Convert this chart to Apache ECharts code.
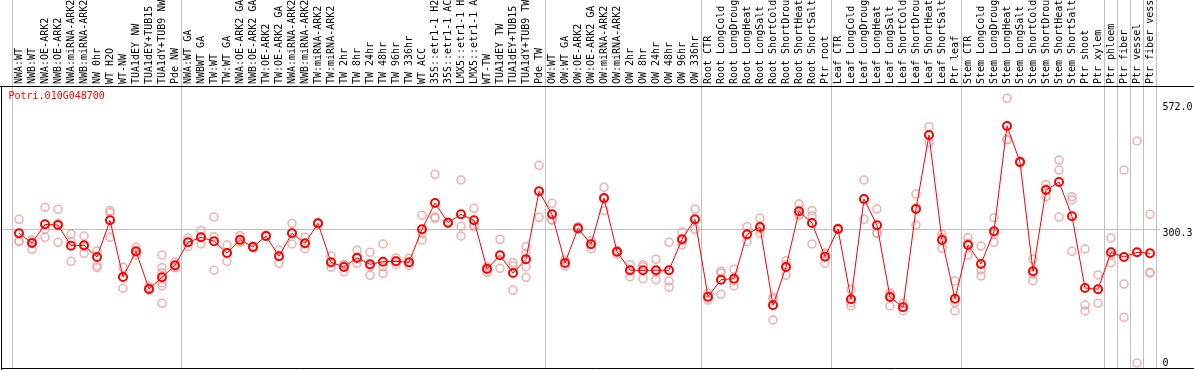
<!DOCTYPE html>
<html>
<head>
<meta charset="utf-8">
<script src="https://cdn.jsdelivr.net/npm/echarts@6/dist/echarts.min.js"></script>
<style>
html,body{margin:0;padding:0;background:#fff;}
#c{width:1194px;height:370px;}
</style>
</head>
<body>
<div id="c"></div>
<script>
const geneTitle = 'Potri.010G048700';

const categories = [
  'NWA:WT','NWB:WT','NWA:OE-ARK2','NWB:OE-ARK2','NWA:miRNA-ARK2','NWB:miRNA-ARK2','NW 0hr','WT H2O','WT-NW',
  'TUA1dEY NW','TUA1dEY+TUB15 NW','TUA1dY+TUB9 NW','Pde NW',
  'NWA:WT GA','NWBWT GA','TW:WT','TW:WT GA','NWA:OE-ARK2 GA','NWB:OE-ARK2 GA','TW:OE-ARK2','TW:OE-ARK2 GA',
  'NWA:miRNA-ARK2 GA','NWB:miRNA-ARK2 GA','TW:miRNA-ARK2','TW:miRNA-ARK2 GA',
  'TW 2hr','TW 8hr','TW 24hr','TW 48hr','TW 96hr','TW 336hr','WT ACC',
  '35S::etr1-1 H2O','35S::etr1-1 ACC','LMX5::etr1-1 H2O','LMX5::etr1-1 ACC','WT-TW',
  'TUA1dEY TW','TUA1dEY+TUB15 TW','TUA1dY+TUB9 TW','Pde TW',
  'OW:WT','OW:WT GA','OW:OE-ARK2','OW:OE-ARK2 GA','OW:miRNA-ARK2','OW:miRNA-ARK2 GA',
  'OW 2hr','OW 8hr','OW 24hr','OW 48hr','OW 96hr','OW 336hr',
  'Root CTR','Root LongCold','Root LongDrought','Root LongHeat','Root LongSalt',
  'Root ShortCold','Root ShortDrought','Root ShortHeat','Root ShortSalt','Ptr root',
  'Leaf CTR','Leaf LongCold','Leaf LongDrought','Leaf LongHeat','Leaf LongSalt',
  'Leaf ShortCold','Leaf ShortDrought','Leaf ShortHeat','Leaf ShortSalt','Ptr leaf',
  'Stem CTR','Stem LongCold','Stem LongDrought','Stem LongHeat','Stem LongSalt',
  'Stem ShortCold','Stem ShortDrought','Stem ShortHeat','Stem ShortSalt',
  'Ptr shoot','Ptr xylem','Ptr phloem','Ptr fiber','Ptr vessel','Ptr fiber vessel'
];

const means = [
  290.3,268.6,310.5,308.9,262.6,263.5,237.3,319.5,192.5,250.0,
  165.7,191.8,218.7,270.2,281.4,272.4,246.2,276.0,259.7,284.3,
  238.9,290.3,268.0,312.7,225.4,214.9,235.7,221.0,226.8,227.7,
  225.4,299.3,358.2,314.1,332.9,319.5,210.4,241.1,201.5,232.1,
  384.4,332.9,223.9,301.5,265.7,369.4,249.2,207.5,207.5,207.5,
  207.5,276.9,321.7,148.4,186.5,188.7,288.1,304.4,129.2,214.9,
  339.6,313.4,238.0,300.0,142.6,367.1,308.3,147.7,124.7,344.7,
  510.4,275.3,143.9,264.2,221.6,294.8,530.5,450.0,205.3,387.3,
  405.2,328.4,167.9,165.0,247.8,237.3,247.8,245.6
];

const replicates = [
  [321.7,273.8,271.5],[275.3,254.5,268.6],[348.6,299.3,281.4],[344.1,270.2,312.7],[288.8,227.7,271.5],
  [284.3,245.6,260.3],[250.7,217.8,213.3],[340.9,336.5,281.4],[214.2,167.2,192.5],[259.0,246.9,241.8],
  [170.8,163.4,165.7],[241.8,213.3,202.1,179.8,172.4,133.6],[226.1,215.6,213.2],[279.8,260.3,270.2],[296.2,266.4,281.4],
  [326.8,282.7,207.5],[264.2,227.7,246.2],[285.0,270.2,273.1],[261.9,257.4,259.7],[285.9,283.2,284.3],
  [253.0,223.2,240.0],[312.7,266.4,291.0],[281.4,255.9,266.4],[314.1,311.2,312.7],[239.5,214.2,224.5],
  [220.1,204.4,219.4],[252.3,223.2,232.8],[247.8,217.1,196.3],[266.4,215.6,200.8],[235.1,220.1,228.3],
  [234.4,217.8,223.9],[330.6,290.3,275.3],[422.4,326.8,323.9],[315.6,312.7,314.1],[409.7,306.0,284.3],
  [346.3,308.9,305.1],[215.6,203.0,212.7],[276.9,212.0],[224.5,217.1,163.4],[260.3,245.6,215.6,191.8],
  [442.6,326.2],[357.5,320.1,321.0],[217.1,230.6],[305.1,299.3,300.6],[273.8,255.9,266.4],
  [393.3,340.9,367.1],[251.4,244.0,248.7],[220.1,193.2,208.2],[220.1,215.6,188.7],[232.1,186.5,203.7],
  [270.2,183.6,169.5],[293.3,264.2,273.1],[344.7,299.3,320.1],[156.0,141.0,147.7],[205.3,201.5,153.8],
  [209.8,172.4,183.6],[305.1,271.5,286.5],[323.9,290.3,300.0],[147.1,96.3,143.3],[229.0,196.3,219.4],
  [355.9,330.6,333.6],[340.9,329.1,266.4],[245.6,223.2,244.0],[301.5,298.5],[165.0,135.0,127.6],
  [409.7,321.7,367.0],[344.7,290.3,291.0],[157.4,127.6,152.2],[133.6,117.1,125.4],[378.3,308.9,347.0],
  [529.0,493.2,510.4],[288.1,256.8,280.0],[183.6,135.9,116.4],[280.5,241.8,268.6],[261.9,208.2,194.8],
  [325.3,270.2,288.8],[592.6,499.2,501.0],[452.2,447.7,450.0],[232.8,184.2,199.2],[399.1,372.3,389.5],
  [454.4,432.0,326.8],[372.3,364.9,250.0],[255.2,129.8,116.4],[197.0,133.6,165.0],[279.8,224.5,241.8],
  [432.0,176.8,102.3],[497.0,0.0],[332.9,203.0,201.0]
];

const yTickValues = [0, 300.3, 572.0];
const meanLineValue = 300.3;
const groupStarts = [0, 13, 41, 53, 63, 73, 84, 85, 86, 87, 88];

const FONT = '"DejaVu Sans Mono","Liberation Mono",monospace';
const repData = [];
replicates.forEach((arr, i) => arr.forEach(v => repData.push([i, v])));

const chart = echarts.init(document.getElementById('c'), null, {renderer: 'canvas'});

const option = {
  animation: false,
  backgroundColor: '#fff',
  title: {
    text: geneTitle, left: 8.5, top: 91, padding: 0,
    textStyle: {color: '#ff0000', fontSize: 10, fontWeight: 'normal', fontFamily: FONT}
  },
  grid: {left: 12.5, right: 37.5, top: 86, bottom: 1, containLabel: false, outerBoundsMode: 'none'},
  xAxis: {
    type: 'category', data: categories, position: 'top', boundaryGap: true,
    axisLine: {show: false}, axisTick: {show: false}, splitLine: {show: false},
    axisLabel: {interval: 0, rotate: 90, margin: 2, color: '#000', fontSize: 10, fontFamily: FONT}
  },
  yAxis: {
    type: 'value', position: 'right', min: -13.4, max: 620.1,
    axisLine: {show: false}, axisTick: {show: false}, splitLine: {show: false},
    axisLabel: {
      customValues: yTickValues, margin: 6, color: '#000', fontSize: 10, fontFamily: FONT,
      formatter: v => v === meanLineValue ? '{d|' + v.toFixed(1) + '}' : (v === 0 ? '0' : v.toFixed(1)),
      rich: {d: {padding: [10, 0, 0, 0], color: '#000', fontSize: 10, fontFamily: FONT}}
    }
  },
  series: [
    {
      type: 'scatter', data: repData, symbol: 'circle', symbolSize: 8, clip: false, silent: true, z: 2,
      itemStyle: {color: 'rgba(0,0,0,0)', borderColor: '#ee9a9a', borderWidth: 1.5}
    },
    {
      type: 'line', data: means, symbol: 'circle', symbolSize: 8, showAllSymbol: true, clip: false, z: 3,
      lineStyle: {color: '#ff0000', width: 1},
      itemStyle: {color: 'rgba(0,0,0,0)', borderColor: '#ff0000', borderWidth: 2}
    }
  ]
};
chart.setOption(option);

const x0 = chart.convertToPixel({xAxisIndex: 0}, 0);
const step = chart.convertToPixel({xAxisIndex: 0}, 1) - x0;
const yMean = Math.round(chart.convertToPixel({yAxisIndex: 0}, meanLineValue)) + 0.5;
const gray = {stroke: '#c0c0c0', lineWidth: 1};
const black = {stroke: '#000', lineWidth: 1};
const elems = groupStarts.map(g => {
  const x = Math.round(x0 + (g - 0.5) * step) - 0.5;
  return {type: 'line', z: 0, silent: true, shape: {x1: x, y1: 0, x2: x, y2: 369}, style: gray};
});
elems.push({type: 'line', z: 0, silent: true, shape: {x1: 1, y1: yMean, x2: 1160, y2: yMean}, style: gray});
elems.push({type: 'line', z: 1, silent: true, shape: {x1: 0, y1: 86.5, x2: 1194, y2: 86.5}, style: black});
elems.push({type: 'line', z: 1, silent: true, shape: {x1: 1.5, y1: 86, x2: 1.5, y2: 370}, style: black});
elems.push({type: 'line', z: 1, silent: true, shape: {x1: 1, y1: 368.5, x2: 1194, y2: 368.5}, style: black});
chart.setOption({graphic: {elements: elems}});
</script>
</body>
</html>
